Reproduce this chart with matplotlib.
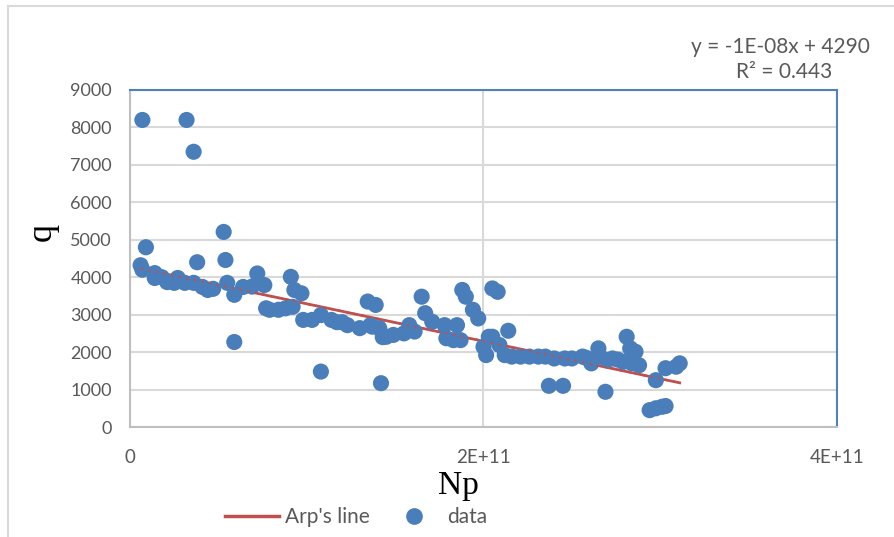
import numpy as np
import matplotlib.pyplot as plt
from matplotlib.lines import Line2D

# Np (cumulative production, units of 1e11) and rate q
np_e11 = [0.07, 0.32, 0.36, 0.09, 0.06, 0.07, 0.14, 0.14, 0.18, 0.21,
          0.27, 0.25, 0.31, 0.36, 0.38, 0.41, 0.44, 0.47, 0.53, 0.54,
          0.55, 0.59, 0.59, 0.64, 0.72, 0.69, 0.76, 0.77, 0.79, 0.84,
          0.88, 0.91, 0.93, 0.97, 0.92, 0.98, 1.03, 1.08, 1.14, 1.17,
          1.23, 1.30, 1.345, 1.36, 1.08, 1.39, 1.37, 1.41, 1.45, 1.49,
          1.43, 1.42, 1.58, 1.61, 1.65, 1.67, 1.71, 1.78, 1.79, 1.83,
          1.85, 1.87, 1.88, 1.90, 1.94, 1.97, 2.00, 2.015, 2.03, 2.05,
          2.08, 2.05, 2.14, 2.09, 2.12, 2.16, 2.21, 2.26, 2.31, 2.35,
          2.40, 2.46, 2.50, 2.56, 2.61, 2.65, 2.66, 2.70, 2.37, 2.45,
          2.81, 2.83, 2.86, 2.73, 2.79, 2.84, 2.88, 2.69, 2.975, 3.03,
          3.11, 3.09, 2.94, 2.975, 3.01, 3.03, 1.20, 1.55, 2.58, 2.76]
q = [8200, 8200, 7350, 4800, 4320, 4200, 4110, 3980, 4000, 3870,
     3980, 3850, 3850, 3850, 4400, 3740, 3660, 3690, 5210, 4460,
     3850, 3530, 2270, 3740, 4100, 3750, 3790, 3170, 3130, 3130,
     3170, 4010, 3660, 3570, 3210, 2860, 2860, 2990, 2860, 2800,
     2720, 2640, 3350, 2720, 1480, 3260, 2680, 2640, 2410, 2460,
     2400, 1170, 2720, 2550, 3480, 3040, 2810, 2720, 2370, 2320,
     2720, 2320, 3660, 3480, 3130, 2900, 2140, 1920, 2410, 3700,
     3610, 2410, 2570, 2190, 1920, 1880, 1880, 1880, 1880, 1880,
     1830, 1830, 1830, 1880, 1700, 2100, 1880, 1790, 1100, 1100,
     2410, 2100, 2010, 1830, 1740, 1700, 1650, 940, 1250, 1570,
     1700, 1610, 450, 500, 540, 560, 2800, 2500, 1850, 1800]

slope, intercept = -1e-8, 4290
x_ticks = [0, 2e11, 4e11]
x_labels = ['0', '2E+11', '4E+11']
y_ticks = list(range(0, 10000, 1000))

x = np.array(np_e11) * 1e11

plt.rcParams['font.family'] = ['Lato', 'DejaVu Sans']

fig = plt.figure(figsize=(8.94, 5.37), dpi=100)
ax = fig.add_axes([130 / 894, 110 / 537, 707 / 894, 337 / 537])

blue = '#4a7ebb'
red = '#c0504d'
gray = '#595959'

xl = np.array([x.min(), x.max()])
ax.plot(xl, slope * xl + intercept, color=red, lw=2.0, zorder=2, label="Arp's line")
ax.scatter(x, q, s=135, color=blue, edgecolors='none', zorder=3, label='data')
# trend line shows through the markers as a dotted trace
ax.plot(xl, slope * xl + intercept, color=red, lw=1.6, ls=(0, (1, 2.5)), zorder=4)

ax.set_xlim(0, 4e11)
ax.set_ylim(0, 9000)
ax.set_xticks(x_ticks)
ax.set_xticklabels(x_labels)
ax.set_yticks(y_ticks)
ax.tick_params(length=0, labelsize=13, colors=gray)
ax.tick_params(axis='y', pad=13)
ax.tick_params(axis='x', pad=16, labelsize=13.5)
ax.grid(True, color='#d9d9d9', lw=1.5, zorder=0)
ax.set_axisbelow(True)

for s in ('left', 'bottom'):
    ax.spines[s].set_color('#bfbfbf')
    ax.spines[s].set_linewidth(1.5)
for s in ('top', 'right'):
    ax.spines[s].set_color('#4f81bd')
    ax.spines[s].set_linewidth(1.5)

ax.set_xlabel('Np', family='Liberation Serif', fontsize=24)
ax.xaxis.set_label_coords((458 - 130) / 707, -(486 - 427) / 337)
ax.xaxis.label.set_va('center')
ax.set_ylabel('q', family='Liberation Serif', fontsize=26)
ax.yaxis.set_label_coords(-(130 - 42) / 707, (427 - 232) / 337)
ax.yaxis.label.set_va('center')

fig.text(780 / 894, 1 - 47 / 537, 'y = -1E-08x + 4290', ha='center', va='center',
         fontsize=15, color=gray)
fig.text(784 / 894, 1 - 72 / 537, 'R² = 0.443', ha='center', va='center',
         fontsize=15, color=gray)

handles = [Line2D([], [], color=red, lw=2.5),
           Line2D([], [], ls='none', marker='o', ms=11, color=blue)]
fig.legend(handles, ["Arp's line", 'data'], loc='center', ncol=2,
           bbox_to_anchor=(356 / 894, 1 - 517 / 537), frameon=False,
           fontsize=15, labelcolor=gray, handlelength=2.6, columnspacing=0.8,
           handletextpad=0.3)

# outer chart border
fig.add_artist(Line2D([8 / 894, 8 / 894], [0, 1 - 6 / 537], transform=fig.transFigure,
                      color='#d9d9d9', lw=1.5))
fig.add_artist(Line2D([8 / 894, 1], [1 - 6 / 537, 1 - 6 / 537], transform=fig.transFigure,
                      color='#d9d9d9', lw=1.5))

fig.savefig('out.png', dpi=100)
